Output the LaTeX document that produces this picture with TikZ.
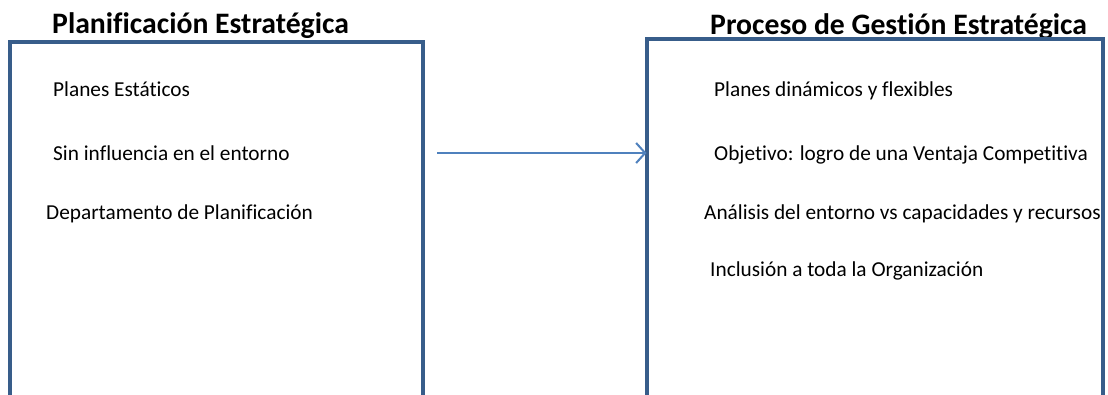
\documentclass[tikz,border=0pt]{standalone}
\usepackage{fontspec}
\setmainfont{Carlito}[Ligatures=NoCommon]
\usetikzlibrary{arrows.meta}

\definecolor{boxblue}{RGB}{56,93,138}
\definecolor{arrowblue}{RGB}{79,129,189}

\begin{document}
\begin{tikzpicture}[
  x=1pt, y=-1pt,
  title/.style={anchor=base west, inner sep=0pt, font=\fontsize{29.7}{34}\selectfont\bfseries},
  item/.style={anchor=base west, inner sep=0pt, font=\fontsize{21.3}{25}\selectfont},
  panel/.style={draw=boxblue, line width=4pt, rectangle, anchor=north west,
    inner sep=0pt, outer sep=0pt},
  link/.style={draw=arrowblue, line width=2pt, -{Straight Barb[length=9pt,width=20pt,line width=2pt]}}
]
\useasboundingbox (0,0) rectangle (1108,394);
\clip (0,0) rectangle (1108,394);
\fill[white] (0,0) rectangle (1108,394);

% titles
\node[title] (tplan) at (52,33) {Planificación Estratégica};
\node[title] (tgest) at (710,34) {Proceso de Gestión Estratégica};

% boxes (open below the page)
\node[panel, minimum width=413pt, minimum height=400pt] (plan) at (10,42) {};
\node[panel, minimum width=456pt, minimum height=400pt] (gest) at (646.5,38.5) {};

% left items
\node[item] (p1) at (53,96) {Planes Estáticos};
\node[item] (p2) at (53,160) {Sin influencia en el entorno};
\node[item] (p3) at (46,219) {Departamento de Planificación};

% right items
\node[item] (g1) at (714,96) {Planes dinámicos y flexibles};
\node[item] (g2) at (714,160) {Objetivo: logro de una Ventaja Competitiva};
\node[item] (g3) at (704,219) {Análisis del entorno vs capacidades y recursos};
\node[item] (g4) at (710,276) {Inclusión a toda la Organización};

\coordinate (astart) at (437,153);
\draw[link] (astart) -- (astart -| gest.west);
\end{tikzpicture}
\end{document}
